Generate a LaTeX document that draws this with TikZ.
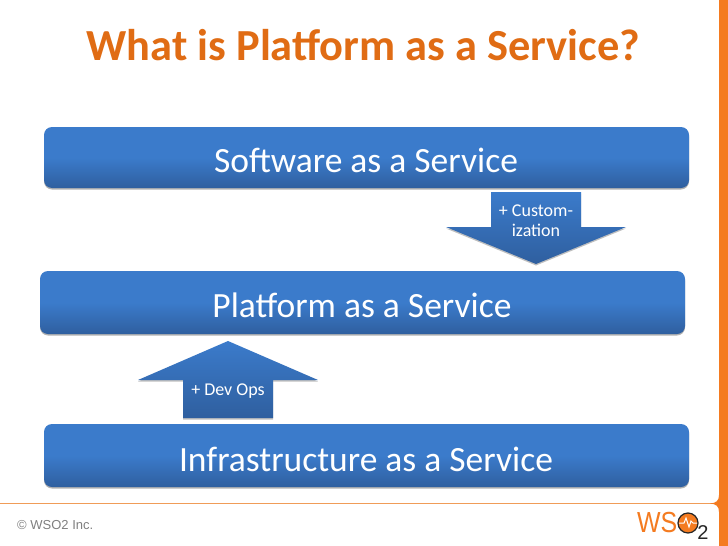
\documentclass[tikz,border=0pt]{standalone}
\usepackage{fontspec}
\setmainfont{Carlito}
\newfontfamily\logofont{Liberation Sans}
\usetikzlibrary{shadows,positioning}
\definecolor{bartop}{HTML}{3B7BCB}
\definecolor{barbot}{HTML}{2F5F9F}
\definecolor{wsoorange}{HTML}{F47B20}
\definecolor{titleorange}{HTML}{E06C14}
\definecolor{ruleorange}{HTML}{F09C58}
\tikzset{
  x=1pt,y=-1pt,
  layerbar/.style={rounded corners=8pt,top color=bartop,bottom color=barbot,middle color=bartop,draw=none,
    drop shadow={shadow xshift=0pt,shadow yshift=-1.5pt,opacity=.3,fill=black}},
  blockarrow/.style={top color=bartop,bottom color=barbot,draw=none,
    drop shadow={shadow xshift=0pt,shadow yshift=-1.5pt,opacity=.25,fill=black}},
  barlabel/.style={text=white,font=\fontsize{35.5}{38}\selectfont,anchor=center,inner sep=0pt},
  arrowlabel/.style={text=white,font=\fontsize{18}{20}\selectfont,align=center,inner sep=0pt},
}
\begin{document}
\begin{tikzpicture}
\useasboundingbox (0,0) rectangle (728,546);
\fill[white] (0,0) rectangle (728,546);
% frame
\draw[ruleorange,line width=1pt] (0,503.5) -- (712,503.5);
\fill[wsoorange] (719,0) -- (728,0) -- (728,546) -- (719,546) -- (719,512) .. controls (719,506) and (716,504) .. (710,503.5) .. controls (716,503) and (719,501) .. (719,495) -- cycle;
% title
\node[text=titleorange,font=\bfseries\fontsize{44.4}{46}\selectfont,inner sep=0pt] (title) at (363.5,45) {What is Platform as a Service?};
% bars
\path[layerbar] (44,127) rectangle (689,188);
\node[barlabel] (saas) at (366,160) {Software as a Service};
\path[layerbar] (40,271) rectangle (685,334);
\node[barlabel] (paas) at (362,305) {Platform as a Service};
\path[layerbar] (44,424) rectangle (689,487);
\node[barlabel] (iaas) at (366,459) {Infrastructure as a Service};
% arrows
\path[blockarrow] (491,192) -- (581,192) -- (581,227) -- (626,227) -- (536,264) -- (446,227) -- (491,227) -- cycle;
\node[arrowlabel] (custom) at (536,221) {+ Custom-\\ization};
\path[blockarrow] (183,418) -- (183,380) -- (138,380) -- (228,341) -- (318,380) -- (273,380) -- (273,418) -- cycle;
\node[arrowlabel] (devops) at (228,391) {+ Dev Ops};
% footer
\node[text=black!50,font=\logofont\fontsize{13}{15}\selectfont,anchor=west,inner sep=0pt] (copy) at (17,525) {© WSO2 Inc.};
\node[text=wsoorange,font=\logofont\fontsize{29}{30}\selectfont,anchor=west,inner sep=0pt,xscale=.86] (wso) at (637,523) {WS};
\fill[wsoorange,draw=black!85,line width=1.2pt] (688,523) circle (10);
\draw[white,line width=1pt] (679,523) -- (684,523) -- (686,518) -- (689,527) -- (691,521) -- (693,523) -- (697,523);
\node[text=black!85,font=\logofont\fontsize{20}{21}\selectfont,inner sep=0pt] (two) at (703,533) {2};
\end{tikzpicture}
\end{document}
